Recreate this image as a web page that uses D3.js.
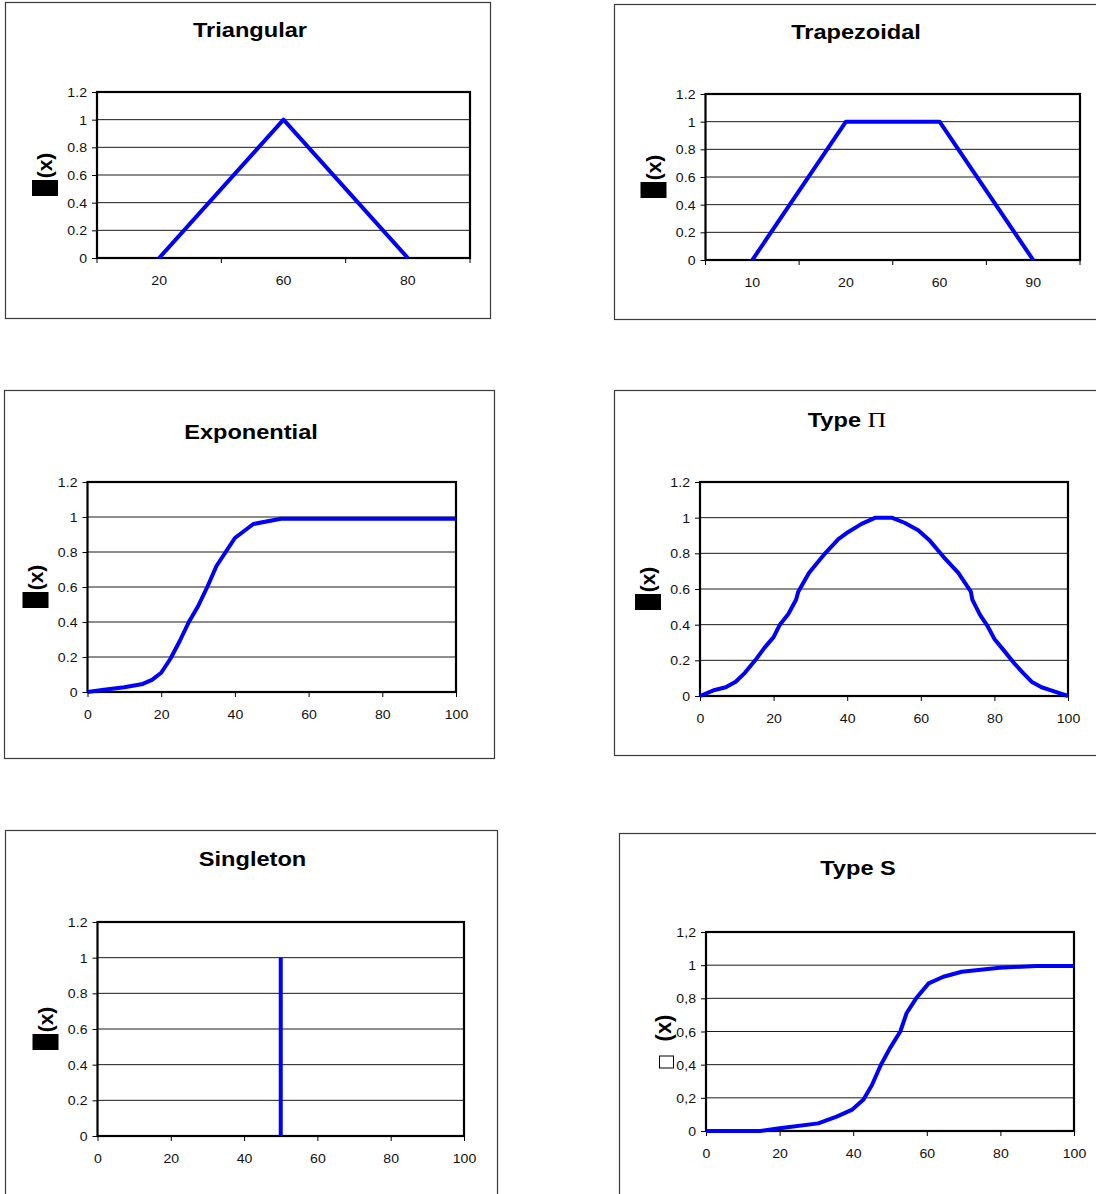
<!DOCTYPE html>
<html>
<head>
<meta charset="utf-8">
<script src="https://cdn.jsdelivr.net/npm/d3@7"></script>
<style>
  html, body { margin: 0; padding: 0; background: #fff; }
  svg { display: block; }
  text { font-family: "Liberation Sans", Arial, sans-serif; }
</style>
</head>
<body>
<svg id="chart" width="1096" height="1194"></svg>
<script>
// ---------------- DATA ----------------
const titles = ["Triangular", "Trapezoidal", "Exponential", "Type ", "Singleton", "Type S"];
const piSymbol = "\u03A0";

const triCategories = ["20", "60", "80"];
const triValues = [0, 1, 0];

const trapCategories = ["10", "20", "60", "90"];
const trapValues = [0, 1, 1, 0];

const expX = [0, 5, 10, 15, 17.5, 20, 22.5, 25, 27.5, 30, 32.5, 35, 37.5, 40, 45, 52.5, 60, 70, 80, 90, 100];
const expY = [0, 0.014, 0.027, 0.046, 0.069, 0.11, 0.19, 0.29, 0.40, 0.49, 0.60, 0.72, 0.80, 0.88, 0.96, 0.99, 0.99, 0.99, 0.99, 0.99, 0.99];

const piX = [0, 4, 7, 9.7, 12.2, 15, 17.5, 20, 21.7, 24, 26.1, 26.7, 29.6, 34, 37.6, 40.3, 43.9, 47.7, 52.1, 55.7, 59.3, 62.5, 66.6, 70.2, 73.6, 74, 76.1, 78.2, 80, 82.4, 85.1, 87.9, 90.1, 92.8, 95.6, 100];
const piY = [0, 0.034, 0.049, 0.08, 0.13, 0.20, 0.27, 0.33, 0.40, 0.46, 0.54, 0.585, 0.69, 0.80, 0.88, 0.92, 0.965, 1.0, 1.0, 0.97, 0.93, 0.87, 0.77, 0.69, 0.585, 0.54, 0.455, 0.39, 0.32, 0.26, 0.19, 0.127, 0.08, 0.049, 0.03, 0];

const singletonX = [50, 50];
const singletonY = [0, 1];

const sX = [0, 14.7, 20, 30.5, 35.5, 39.6, 42.8, 45.1, 47.5, 50, 52.8, 54.5, 57.1, 60.5, 64.5, 69.5, 79.8, 89.8, 100];
const sY = [0, 0, 0.016, 0.046, 0.087, 0.127, 0.19, 0.277, 0.398, 0.50, 0.60, 0.71, 0.80, 0.89, 0.93, 0.96, 0.985, 0.995, 0.995];

const yTickValues = [0, 0.2, 0.4, 0.6, 0.8, 1, 1.2];
const yTickLabelsDot = ["0", "0.2", "0.4", "0.6", "0.8", "1", "1.2"];
const yTickLabelsComma = ["0", "0,2", "0,4", "0,6", "0,8", "1", "1,2"];
const xTickValues = [0, 20, 40, 60, 80, 100];
const xTickLabels = ["0", "20", "40", "60", "80", "100"];
const yLabelText = "(x)";

// ---------------- LAYOUT ----------------
const svg = d3.select("#chart");
const STRETCH = 1.18;
const TSTRETCH = 1.13;
const TFONT = 12.5;
const BLUE = "#0000FF";

const panels = [
  { title: titles[0], box: [5, 2, 490, 318], plot: [97, 92, 470, 258], titleAt: [250, 37],
    type: "cat", cats: triCategories, vals: triValues, yLabels: yTickLabelsDot, ylab: "solid" },
  { title: titles[1], box: [614, 4, 1104, 319], plot: [705.5, 94, 1080, 260], titleAt: [856, 38.5],
    type: "cat", cats: trapCategories, vals: trapValues, yLabels: yTickLabelsDot, ylab: "solid" },
  { title: titles[2], box: [4, 390, 494, 758], plot: [87.5, 482, 456, 692], titleAt: [251, 438.5],
    type: "lin", xs: expX, ys: expY, yLabels: yTickLabelsDot, ylab: "solid" },
  { title: titles[3], pi: true, box: [614, 390, 1104, 755], plot: [700, 482, 1068, 696], titleAt: [847, 427],
    type: "lin", xs: piX, ys: piY, yLabels: yTickLabelsDot, ylab: "solid" },
  { title: titles[4], box: [5, 830, 497, 1204], plot: [97.5, 922, 464, 1136], titleAt: [252.5, 866],
    type: "lin", xs: singletonX, ys: singletonY, yLabels: yTickLabelsDot, ylab: "solid" },
  { title: titles[5], box: [619, 833, 1104, 1204], plot: [706, 932, 1074, 1131], titleAt: [858, 875],
    type: "lin", xs: sX, ys: sY, yLabels: yTickLabelsComma, ylab: "hollow" }
];

panels.forEach(p => {
  const g = svg.append("g");
  const [bx0, by0, bx1, by1] = p.box;
  const [L, T, R, B] = p.plot;

  // outer box
  g.append("rect")
    .attr("x", bx0 + 0.5).attr("y", by0 + 0.5)
    .attr("width", bx1 - bx0).attr("height", by1 - by0)
    .attr("fill", "#fff").attr("stroke", "#3a3a3a").attr("stroke-width", 1.2);

  // title
  const t = g.append("text")
    .attr("transform", `translate(${p.titleAt[0]},${p.titleAt[1]}) scale(${STRETCH},1)`)
    .attr("text-anchor", "middle")
    .attr("font-size", 20).attr("font-weight", "bold").attr("fill", "#000");
  t.append("tspan").text(p.title);
  if (p.pi) {
    t.append("tspan").attr("font-family", "'Liberation Serif', 'DejaVu Serif', serif")
      .attr("font-weight", "normal").attr("font-size", 22).text(piSymbol);
  }

  const y = d3.scaleLinear().domain([0, 1.2]).range([B, T]);

  // gridlines
  g.append("g").selectAll("line")
    .data(yTickValues.filter(v => v > 0 && v < 1.2))
    .join("line")
    .attr("x1", L).attr("x2", R)
    .attr("y1", d => y(d)).attr("y2", d => y(d))
    .attr("stroke", "#1a1a1a").attr("stroke-width", 1);

  // y axis
  const yAxis = g.append("g").attr("transform", `translate(${L},0)`)
    .call(d3.axisLeft(y).tickValues(yTickValues)
      .tickFormat((d, i) => p.yLabels[i]).tickSize(5).tickSizeOuter(0));
  yAxis.select(".domain").remove();
  yAxis.selectAll(".tick line").attr("stroke", "#000").attr("stroke-width", 1);
  yAxis.selectAll("text")
    .attr("x", null).attr("dy", null)
    .attr("transform", `translate(-10,4.5) scale(${TSTRETCH},1)`)
    .attr("font-size", TFONT).attr("fill", "#111")
    .style("font-family", "'Liberation Sans', Arial, sans-serif");

  let lineData;
  if (p.type === "cat") {
    const xb = d3.scaleBand().domain(p.cats).range([L, R]).padding(0);
    const bounds = p.cats.map(c => xb(c)).concat([R]);
    g.append("g").selectAll("line").data(bounds).join("line")
      .attr("x1", d => d).attr("x2", d => d)
      .attr("y1", B).attr("y2", B + 5)
      .attr("stroke", "#000").attr("stroke-width", 1);
    g.append("g").selectAll("text").data(p.cats).join("text")
      .attr("transform", d => `translate(${xb(d) + xb.bandwidth() / 2},${B + 27}) scale(${TSTRETCH},1)`)
      .attr("text-anchor", "middle").attr("font-size", TFONT).attr("fill", "#111")
      .text(d => d);
    lineData = p.cats.map((c, i) => [xb(c) + xb.bandwidth() / 2, y(p.vals[i])]);
  } else {
    const x = d3.scaleLinear().domain([0, 100]).range([L, R]);
    const xAxis = g.append("g").attr("transform", `translate(0,${B})`)
      .call(d3.axisBottom(x).tickValues(xTickValues)
        .tickFormat((d, i) => xTickLabels[i]).tickSize(5).tickSizeOuter(0));
    xAxis.select(".domain").remove();
    xAxis.selectAll(".tick line").attr("stroke", "#000").attr("stroke-width", 1);
    xAxis.selectAll("text")
      .attr("y", null).attr("dy", null)
      .attr("transform", `translate(0,27) scale(${TSTRETCH},1)`)
      .attr("font-size", TFONT).attr("fill", "#111")
      .style("font-family", "'Liberation Sans', Arial, sans-serif");
    lineData = p.xs.map((v, i) => [x(v), y(p.ys[i])]);
  }

  // plot border
  g.append("rect")
    .attr("x", L).attr("y", T).attr("width", R - L).attr("height", B - T)
    .attr("fill", "none").attr("stroke", "#000").attr("stroke-width", 2.2);

  // series line
  g.append("path")
    .datum(lineData)
    .attr("d", d3.line().curve(d3.curveLinear))
    .attr("fill", "none").attr("stroke", BLUE)
    .attr("stroke-width", 4).attr("stroke-linejoin", "round");

  // y-axis label
  const mid = (T + B) / 2;
  if (p.ylab === "solid") {
    g.append("text")
      .attr("transform", `translate(${L - 52},${mid - 9.5}) rotate(-90)`)
      .attr("text-anchor", "middle").attr("dy", "0.35em")
      .attr("font-size", 21).attr("font-weight", "bold").attr("fill", "#000")
      .text(yLabelText);
    g.append("rect")
      .attr("x", L - 65).attr("y", mid + 5).attr("width", 26).attr("height", 16)
      .attr("fill", "#000");
  } else {
    g.append("text")
      .attr("transform", `translate(${L - 42.5},${mid - 3.5}) rotate(-90)`)
      .attr("text-anchor", "middle").attr("dy", "0.35em")
      .attr("font-size", 22).attr("font-weight", "bold").attr("fill", "#000")
      .text(yLabelText);
    g.append("rect")
      .attr("x", L - 46.5).attr("y", mid + 24.5).attr("width", 14).attr("height", 12)
      .attr("fill", "none").attr("stroke", "#000").attr("stroke-width", 1);
  }
});
</script>
</body>
</html>
